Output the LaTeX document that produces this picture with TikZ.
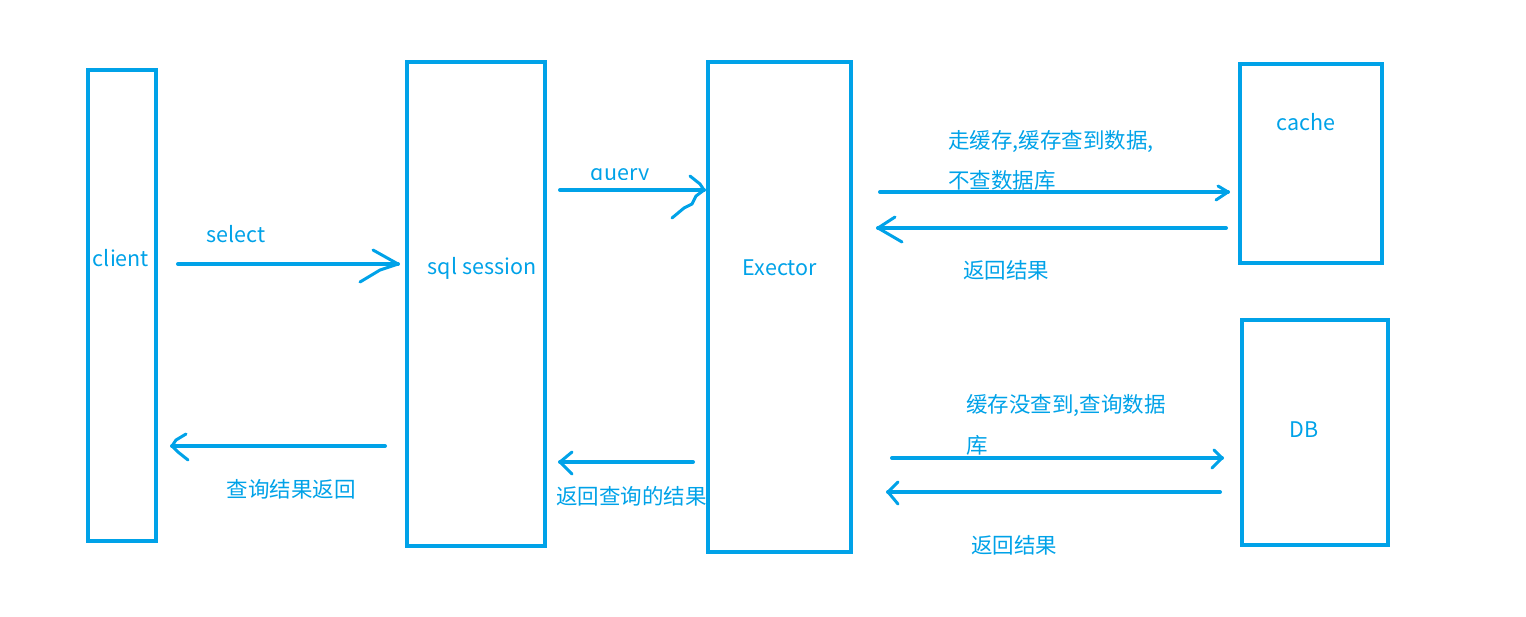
\documentclass[tikz,border=0pt]{standalone}
\usepackage{fontspec}
\setmainfont{Noto Sans CJK SC}
\definecolor{pb}{RGB}{0,162,232}
\begin{document}
\begin{tikzpicture}[x=1pt,y=-1pt,
  arr/.style={draw=pb,line width=4pt,line cap=round,line join=round},
  barb/.style={draw=pb,line width=3pt,line cap=round,line join=round},
  lbl/.style={text=pb,inner sep=0pt,font=\fontsize{21.5}{26}\selectfont}]
\useasboundingbox (0,0) rectangle (1526,616);
% boxes
\draw[draw=pb,line width=4pt] (88,70) rectangle (156,541);
\draw[draw=pb,line width=4pt] (407,62) rectangle (545,546);
\draw[draw=pb,line width=4pt] (708,62) rectangle (851,552);
\draw[draw=pb,line width=4pt] (1240,64) rectangle (1382,263);
\draw[draw=pb,line width=4pt] (1242,320) rectangle (1388,545);
\node[lbl] (client) at (121,258) {client};
\node[lbl] (sqls) at (482,268) {sql session};
\node[lbl] (exec) at (780,268) {Exector};
\node[lbl] (cache) at (1306,122) {cache};
\node[lbl] (db) at (1304,430) {DB};
% select
\coordinate (s1) at (178,264);
\coordinate (s2) at (398,264);
\draw[arr] (s1) -- (s2);
\draw[barb] ([shift={(-25,-14)}]s2) -- (s2) -- ([shift={(-18,6)}]s2) -- ([shift={(-38,18)}]s2);
\node[lbl] (selt) at (236,234) {select};
% query
\coordinate (q1) at (560,190);
\coordinate (q2) at (704,190);
\draw[arr] (q1) -- (q2);
\draw[barb] ([shift={(-14,-14)}]q2) -- ([shift={(-4,-6)}]q2) -- (q2) -- ([shift={(-8,6)}]q2) -- ([shift={(-12,14)}]q2) -- ([shift={(-20,18)}]q2) -- ([shift={(-32,28)}]q2);
\begin{scope}
\clip (580,150) rectangle (660,179);
\node[lbl] (qt) at (620,177) {query};
\end{scope}
% cache forward
\coordinate (c1) at (880,192);
\coordinate (c2) at (1228,192);
\draw[arr] (c1) -- (c2);
\draw[barb] ([shift={(-10,-6)}]c2) -- (c2) -- ([shift={(-12,8)}]c2);
\node[lbl,anchor=west] (ct1) at (948,141) {走缓存,缓存查到数据,};
\node[lbl,anchor=west] (ct2) at (948,180) {不查数据库};
% cache back
\coordinate (c3) at (1226,228);
\coordinate (c4) at (878,228);
\draw[arr] (c3) -- (c4);
\draw[barb] ([shift={(17,-11)}]c4) -- (c4) -- ([shift={(24,14)}]c4);
\node[lbl] (cr) at (1006,270) {返回结果};
% DB forward
\coordinate (d1) at (892,458);
\coordinate (d2) at (1222,458);
\draw[arr] (d1) -- (d2);
\draw[barb] ([shift={(-8,-8)}]d2) -- (d2) -- ([shift={(-10,10)}]d2);
\node[lbl,anchor=west] (dt1) at (966,405) {缓存没查到,查询数据};
\node[lbl,anchor=west] (dt2) at (966,445) {库};
% DB back
\coordinate (d3) at (1220,492);
\coordinate (d4) at (888,492);
\draw[arr] (d3) -- (d4);
\draw[barb] ([shift={(10,-10)}]d4) -- (d4) -- ([shift={(10,12)}]d4);
\node[lbl] (dr) at (1014,545) {返回结果};
% client return
\coordinate (r1) at (385,446);
\coordinate (r2) at (172,446);
\draw[arr] (r1) -- (r2);
\draw[barb] ([shift={(14,-12)}]r2) -- ([shift={(4,-6)}]r2) -- (r2) -- ([shift={(6,6)}]r2) -- ([shift={(16,14)}]r2);
\node[lbl] (rt) at (291,489) {查询结果返回};
% exector return
\coordinate (e1) at (693,462);
\coordinate (e2) at (560,462);
\draw[arr] (e1) -- (e2);
\draw[barb] ([shift={(12,-10)}]e2) -- (e2) -- ([shift={(12,12)}]e2);
\node[lbl,anchor=west] (et) at (556,496) {返回查询的结果};
\end{tikzpicture}
\end{document}
